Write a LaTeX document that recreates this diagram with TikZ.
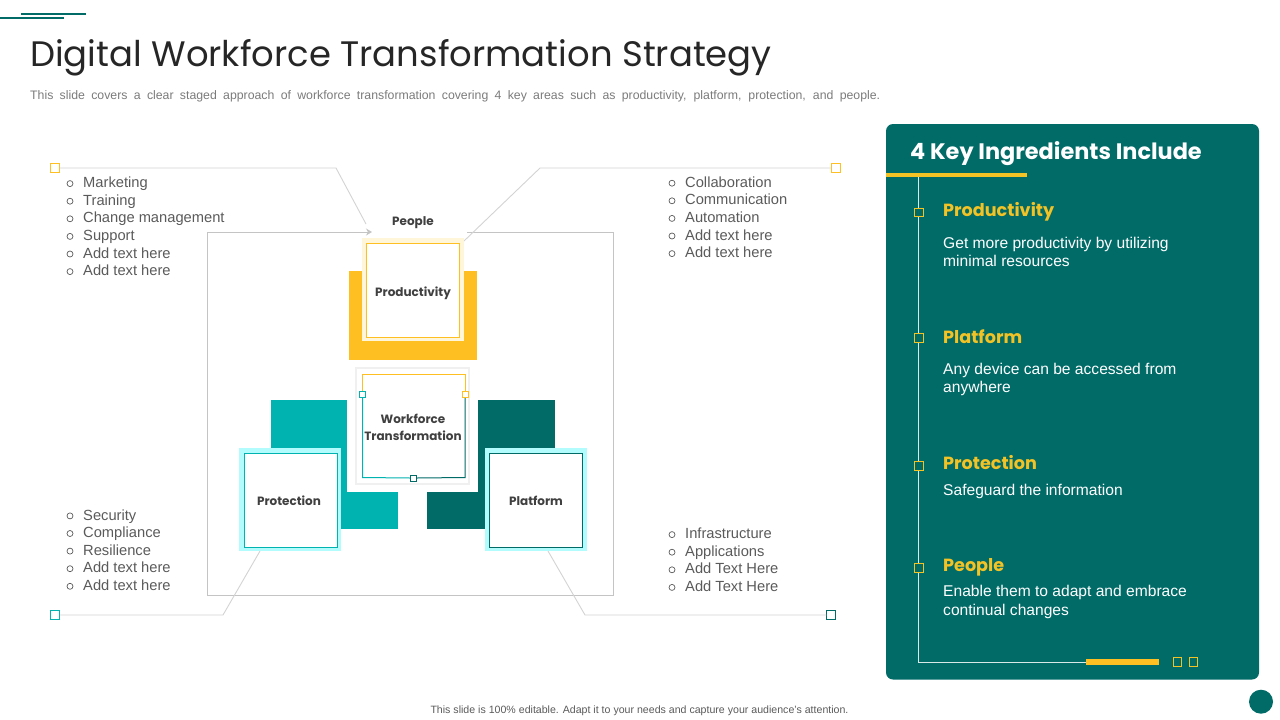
\documentclass[tikz,border=0pt]{standalone}
\usepackage{fontspec}
\setmainfont{Liberation Sans}
\newfontfamily\pop{Poppins}
\usetikzlibrary{arrows.meta}
\definecolor{dteal}{HTML}{016B68}
\definecolor{tealc}{HTML}{00B2B0}
\definecolor{yellowc}{HTML}{FDBF22}
\definecolor{yhead}{HTML}{F3C225}
\definecolor{lcyan}{HTML}{B3FCFD}
\definecolor{cream}{HTML}{FFF6D9}
\definecolor{lgray}{HTML}{D3D3D3}
\definecolor{fgray}{HTML}{C4C4C4}
\definecolor{tgray}{HTML}{5A5A5A}
\definecolor{dgray}{HTML}{262626}
\definecolor{lblgray}{HTML}{404040}
\begin{document}
\begin{tikzpicture}[x=1pt,y=-1pt,
  conn/.style={draw=lgray,line width=0.9},
  sq/.style={draw=#1,line width=1,fill=white,minimum size=8.5,inner sep=0},
  bul/.style={anchor=base west,inner sep=0,text=tgray,font=\fontsize{14.7}{17.6}\selectfont},
  bulc/.style={draw=tgray,line width=0.7},
  lbl/.style={anchor=base,inner sep=0,text=lblgray,font=\pop\bfseries\fontsize{12}{15}\selectfont,align=center},
  ph/.style={anchor=base west,inner sep=0,text=yhead,font=\pop\bfseries\fontsize{17.6}{22}\selectfont},
  pd/.style={anchor=base west,inner sep=0,text=white,font=\fontsize{15.6}{18.4}\selectfont,align=left},
  psq/.style={draw=yhead,line width=1,fill=dteal,minimum size=8.5,inner sep=0}
]
\useasboundingbox (0,0) rectangle (1280,720);
% top-left decoration
\draw[dteal,line width=2] (21,13.5) -- (86,13.5);
\draw[dteal,line width=2] (0,18) -- (64,18);
% title
\node[anchor=base west,inner sep=0,text=dgray,font=\pop\fontsize{35.4}{40}\selectfont] (title) at (30,66) {Digital Workforce Transformation Strategy};
\node[anchor=base west,inner sep=0,text=tgray!80,font=\fontsize{12.3}{14}\selectfont] (sub) at (30,99) {\makebox[850pt][s]{This slide covers a clear staged approach of workforce transformation covering 4 key areas such as productivity, platform, protection, and people.}};

% ---------- diagram ----------
% frame
\draw[draw=fgray,line width=0.9,{Stealth[length=6,width=7]}-] (372,232) -- (207,232) -- (207,595) -- (613,595) -- (613,232) -- (467,232);

% connectors
\node[sq=yellowc] (sqTL) at (55,168) {};
\coordinate (tlb) at (336,168);
\coordinate (tle) at (366,224);
\draw[conn] (sqTL.east) -- (tlb) -- (tle);
\node[sq=yellowc] (sqTR) at (836,168) {};
\coordinate (trb) at (540,168);
\coordinate (tre) at (464,241);
\draw[conn] (sqTR.west) -- (trb) -- (tre);
\node[sq=tealc] (sqBL) at (55,615) {};
\coordinate (blb) at (223,615);
\coordinate (ble) at (260,551);
\draw[conn] (sqBL.east) -- (blb) -- (ble);
\node[sq=dteal] (sqBR) at (831,615) {};
\coordinate (brb) at (585,615);
\coordinate (bre) at (548,551);
\draw[conn] (sqBR.west) -- (brb) -- (bre);

% People label
\node[lbl] (people) at (413,225.7) {People};

% productivity block
\fill[yellowc] (349,271) rectangle (477,360);
\fill[cream] (362,238) rectangle (464,341);
\node[draw=yellowc,line width=1,fill=white,minimum width=93.7,minimum height=94.5,inner sep=0] (prodbox) at (413,290.3) {};
\node[lbl] (prod) at (413,296.7) {Productivity};

% teal blocks
\fill[tealc] (271,400) rectangle (398,529);
\fill[dteal] (427,400) rectangle (555,529);

% workforce box
\fill[white] (347,363) rectangle (478,492);
\draw[draw=black!6,line width=1.5,fill=white] (356,368) rectangle (469,484);
\draw[yellowc,line width=1] (362.5,391) -- (362.5,374.3) -- (465,374.3) -- (465,391);
\node[sq=tealc,minimum size=6] (wsq1) at (362.5,394.5) {};
\node[sq=yellowc,minimum size=6] (wsq2) at (465,394.5) {};
\node[sq=dteal,minimum size=6] (wsq3) at (413.5,478) {};
\draw[tealc,line width=1] (wsq1.south) -- (362.5,477.5) -- (wsq3.west);
\draw[dteal,line width=1] (wsq2.south) -- (465,477.5) -- (wsq3.east);
\node[lbl] (wt1) at (413,423.3) {Workforce};
\node[lbl] (wt2) at (413,440) {Transformation};

% protection
\fill[lcyan] (239.3,448.3) rectangle (340.7,550.7);
\node[draw=tealc,line width=1,fill=white,minimum width=93.4,minimum height=94,inner sep=0] (protbox) at (291,500.3) {};
\node[lbl] (prot) at (289,505) {Protection};
% platform
\fill[lcyan] (485,448) rectangle (586.7,551);
\node[draw=dteal,line width=1,fill=white,minimum width=93.7,minimum height=94,inner sep=0] (platbox) at (535.9,500) {};
\node[lbl] (plat) at (536,505) {Platform};

% bullet lists
\foreach \t [count=\i] in {Marketing,Training,Change management,Support,Add text here,Add text here}{
  \node[bul] (tl\i) at (83,{187.7+17.6*(\i-1)}) {\t};
  \draw[bulc] (70,{183.6+17.6*(\i-1)}) circle (3);
}
\foreach \t [count=\i] in {Collaboration,Communication,Automation,Add text here,Add text here}{
  \node[bul] (tr\i) at (685,{187.3+17.6*(\i-1)}) {\t};
  \draw[bulc] (672,{183.2+17.6*(\i-1)}) circle (3);
}
\foreach \t [count=\i] in {Security,Compliance,Resilience,Add text here,Add text here}{
  \node[bul] (bl\i) at (83,{520+17.6*(\i-1)}) {\t};
  \draw[bulc] (70,{515.9+17.6*(\i-1)}) circle (3);
}
\foreach \t [count=\i] in {Infrastructure,Applications,Add Text Here,Add Text Here}{
  \node[bul] (br\i) at (685,{538.7+17.6*(\i-1)}) {\t};
  \draw[bulc] (672,{534.6+17.6*(\i-1)}) circle (3);
}

% ---------- right panel ----------
\fill[dteal,rounded corners=7] (886,124) rectangle (1259,679.5);
\node[anchor=base west,inner sep=0,text=white,font=\pop\bfseries\fontsize{22.4}{26}\selectfont] (ptitle) at (910,159.3) {4 Key Ingredients Include};
\fill[yhead] (886,172.7) rectangle (1026.7,176.7);
\draw[white!85!dteal,line width=1] (918.5,176.7) -- (918.5,662) -- (1086,662);
\fill[yellowc] (1086,659) rectangle (1158.7,665);
\node[psq] (e1) at (1177.5,662) {};
\node[psq] (e2) at (1193.5,662) {};

\node[psq] (s1) at (918.8,212.7) {};
\node[ph] (h1) at (943,216.7) {Productivity};
\node[pd] (d1) at (943,266.7) {Get more productivity by utilizing\\minimal resources};
\node[psq] (s2) at (918.8,338) {};
\node[ph] (h2) at (943,343) {Platform};
\node[pd] (d2) at (943,392.7) {Any device can be accessed from\\anywhere};
\node[psq] (s3) at (918.8,466) {};
\node[ph] (h3) at (943,469.5) {Protection};
\node[pd] (d3) at (943,495.3) {Safeguard the information};
\node[psq] (s4) at (918.8,567.8) {};
\node[ph] (h4) at (943,571.7) {People};
\node[pd] (d4) at (943,615) {Enable them to adapt and embrace\\continual changes};

% footer
\node[anchor=base,inner sep=0,text=tgray,font=\fontsize{10.6}{12}\selectfont] (foot) at (639.5,713) {This slide is 100\% editable. Adapt it to your needs and capture your audience's attention.};
\fill[dteal] (1261,701.7) circle (12);
\end{tikzpicture}
\end{document}
